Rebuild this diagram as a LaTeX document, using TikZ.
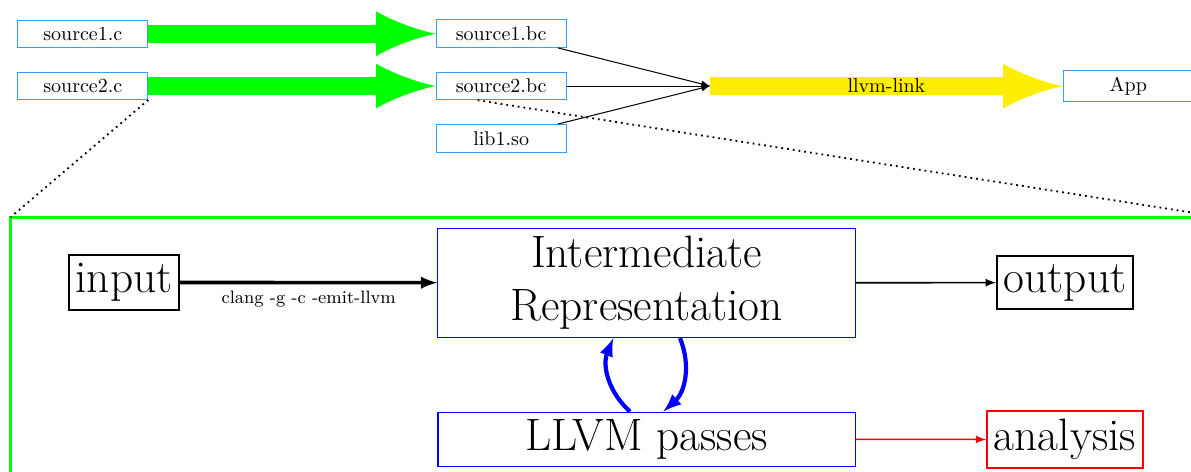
\documentclass[tikz,border=0pt]{standalone}
\usetikzlibrary{calc}
\definecolor{fileblue}{RGB}{50,160,255}
\definecolor{compilegreen}{RGB}{0,255,0}
\definecolor{linkyellow}{RGB}{255,238,0}
\definecolor{stageblue}{RGB}{0,0,255}
\newcommand{\bigtext}{\fontsize{22.7pt}{26.5pt}\selectfont}
\begin{document}
\begin{tikzpicture}[x=0.5pt, y=-0.5pt,
  filebox/.style={draw=fileblue, line width=0.5pt, minimum width=65pt,
    inner sep=3.33pt, font=\normalsize},
  fatarrow/.style={line width=9pt, -latex},
  joinline/.style={line width=0.5pt, -latex},
  stagebox/.style={draw=stageblue, line width=0.6pt, minimum width=208.6pt,
    inner sep=3.33pt, font=\bigtext},
  termbox/.style={draw=#1, line width=1pt, inner xsep=3.33pt,
    inner ysep=4.1pt, font=\bigtext},
  passloop/.style={draw=stageblue, line width=2.1pt, -latex},
  zoomline/.style={dotted, line width=0.9pt},
]
\useasboundingbox (0,0) rectangle (1191,472);
\clip (0,0) rectangle (1191,472);

% magnified view of the compilation of one source file
\node[draw=compilegreen, line width=1.5pt, anchor=north west, outer sep=0pt,
      inner sep=0pt, minimum width=604.6pt, minimum height=150pt] (detail) at (10.8,217) {};

% build overview: sources, bitcode, linking
\node[filebox] (s1c)  at (82.8,33.7)   {source1.c};
\node[filebox] (s2c)  at (82.8,86)     {source2.c};
\node[filebox] (s1bc) at (501.2,33.7)  {source1.bc};
\node[filebox] (s2bc) at (501.2,86)    {source2.bc};
\node[filebox] (lib)  at (501.2,138.3) {lib1.so};
\coordinate (join) at (710,86);
\node[filebox] (app)  at (1128.3,86.2) {App};

\draw[draw=compilegreen, fatarrow] (s1c) -- (s1bc);
\draw[draw=compilegreen, fatarrow] (s2c) -- (s2bc);
\draw[joinline] (s1bc) -- (join);
\draw[joinline] (s2bc) -- (join);
\draw[joinline] (lib) -- (join);
\draw[draw=linkyellow, fatarrow] (join) -- node[text=black] {llvm-link} (app);

% zoom lines
\draw[zoomline] (s2c.south east) -- (detail.north west);
\draw[zoomline] ($(s2bc.south west)!0.32!(s2bc.south east)$) -- (detail.north east);

% compiler pipeline
\node[termbox=black] (in)  at (124,282.4)  {input};
\node[termbox=black] (out) at (1065,282.6) {output};
\node[stagebox, minimum height=27pt] (passes) at (646.5,439.2) {LLVM passes};
\node[stagebox, minimum height=54.6pt, inner ysep=0pt, text width=202pt, align=center]
  (ir) at (646.5,282.9) {Intermediate Representation};
\node[termbox=red]   (ana) at (1065,439.5) {analysis};

\draw[line width=1.8pt, -latex] (in) -- node[below, font=\small] {clang -g -c -emit-llvm} (ir);
\draw[line width=0.8pt, -latex] (ir) -- (out);
\draw[draw=red, line width=0.8pt, -latex] (passes) -- (ana);
\draw[passloop] ($(passes.north)+(-16.5,0)$) to[bend left=35] ($(ir.south)+(-33.2,0)$);
\draw[passloop] ($(ir.south)+(33.5,0)$) to[bend left=35] ($(passes.north)+(16.8,0)$);
\end{tikzpicture}
\end{document}
